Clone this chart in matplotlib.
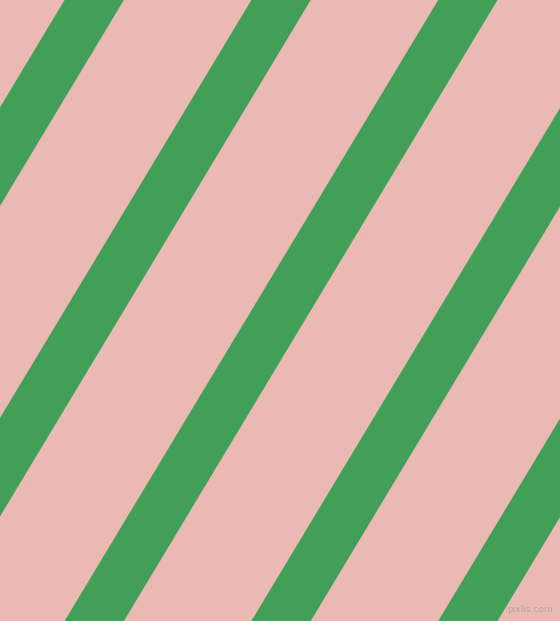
import matplotlib
matplotlib.use("Agg")
import matplotlib.pyplot as plt
import numpy as np

# canvas size in pixels
width_px = 560
height_px = 621

# stripe left edges where they meet the top border (px), and their horizontal width
stripe_starts = [-122.2, 64.6, 251.4, 438.2, 625.0, 811.8]
stripe_width = 59.3
# horizontal drift per pixel going down
slope = 0.6016

bg_color = "#EAB9B4"
stripe_color = "#429F58"

fig = plt.figure(figsize=(width_px / 100, height_px / 100), dpi=100)
ax = fig.add_axes([0, 0, 1, 1])
ax.set_xlim(0, width_px)
ax.set_ylim(height_px, 0)
ax.set_facecolor(bg_color)
fig.patch.set_facecolor(bg_color)
ax.axis("off")

for x0 in stripe_starts:
    xs = [x0, x0 + stripe_width,
          x0 + stripe_width - slope * height_px, x0 - slope * height_px]
    ys = [0, 0, height_px, height_px]
    ax.fill(xs, ys, color=stripe_color, linewidth=0, antialiased=True)

ax.text(553, 610, "pixlis.com", fontsize=6.5, color="#B3A59E",
        ha="right", va="center")

fig.savefig("out.png", dpi=100, facecolor=bg_color)
